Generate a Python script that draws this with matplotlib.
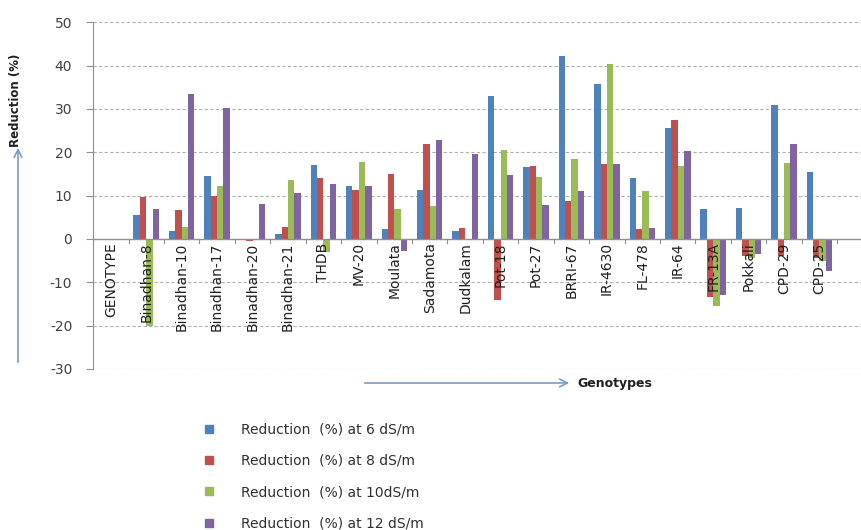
import numpy as np
import matplotlib
matplotlib.use("Agg")
import matplotlib.pyplot as plt
from matplotlib.patches import FancyArrowPatch
from matplotlib.lines import Line2D

plt.rcParams['axes.unicode_minus'] = False

genotypes = ['GENOTYPE', 'Binadhan-8', 'Binadhan-10', 'Binadhan-17', 'Binadhan-20',
             'Binadhan-21', 'THDB', 'MV-20', 'Moulata', 'Sadamota', 'Dudkalam',
             'Pot-18', 'Pot-27', 'BRRI-67', 'IR-4630', 'FL-478', 'IR-64',
             'FR-13A', 'Pokkali', 'CPD-29', 'CPD-25']

red_6 = [0, 5.5, 1.8, 14.5, -0.2, 1.2, 17.1, 12.2, 2.3, 11.2, 1.9,
         32.9, 16.7, 42.1, 35.8, 14.1, 25.6, 6.9, 7.1, 31.0, 15.5]
red_8 = [0, 9.6, 6.7, 10.0, -0.4, 2.8, 14.1, 11.2, 15.0, 21.8, 2.4,
         -14.0, 16.8, 8.7, 17.2, 2.3, 27.5, -13.5, -4.0, -4.0, -4.5]
red_10 = [0, -20.0, 2.7, 12.2, -0.3, 13.7, -3.0, 17.8, 6.8, 7.5, -0.3,
          20.5, 14.2, 18.5, 40.4, 11.0, 16.8, -15.5, -4.5, 17.5, -5.0]
red_12 = [0, 6.8, 33.5, 30.2, 8.1, 10.5, 12.7, 12.2, -2.8, 22.8, 19.5,
          14.8, 7.9, 11.0, 17.3, 2.5, 20.4, -13.0, -3.5, 21.8, -7.5]

series = [red_6, red_8, red_10, red_12]
names = ['Reduction  (%) at 6 dS/m', 'Reduction  (%) at 8 dS/m',
         'Reduction  (%) at 10dS/m', 'Reduction  (%) at 12 dS/m']
colors = ['#4F81BD', '#C0504D', '#9BBB59', '#8064A2']

fig = plt.figure(figsize=(8.62, 5.3), dpi=100)
ax = fig.add_axes([0.108, 0.304, 0.892, 0.654])

x = np.arange(len(genotypes))
w = 0.18
offs = [-1.5 * w, -0.5 * w, 0.5 * w, 1.5 * w]
for vals, c, off in zip(series, colors, offs):
    ax.bar(x + off, vals, width=w, color=c, zorder=3)

ax.set_ylim(-30, 50)
ax.set_xlim(-0.5, 21.2)
ax.set_yticks(range(-30, 51, 10))
ax.yaxis.grid(True, linestyle=(0, (3, 2)), color='#b0b0b0', linewidth=0.8, zorder=0)
ax.axhline(0, color='#909090', linewidth=1.0, zorder=4)
for s in ['top', 'right', 'bottom']:
    ax.spines[s].set_visible(False)
ax.spines['left'].set_color('#909090')
ax.tick_params(axis='y', length=5, color='#909090', labelsize=10, labelcolor='#404040', pad=10)
ax.set_xticks([])

# category boundary ticks on zero line
for b in np.arange(-0.5, len(genotypes) + 0.5, 1.0):
    ax.plot([b, b], [0, -0.9], color='#909090', linewidth=0.8, zorder=4)

for i, g in enumerate(genotypes):
    ax.text(i, -0.8, g, rotation=90, ha='center', va='top', fontsize=10,
            color='#202020', zorder=5)

# axis title arrows
fig.patches.append(FancyArrowPatch((18 / 862, 1 - 365 / 530), (18 / 862, 1 - 145 / 530),
                                   transform=fig.transFigure, arrowstyle='->',
                                   mutation_scale=14, color='#7a9cc6', linewidth=1.2))
fig.text(16 / 862, 1 - 100 / 530, 'Reduction (%)', rotation=90, ha='center', va='center',
         fontsize=8.5, fontweight='bold', color='#202020')
fig.patches.append(FancyArrowPatch((362 / 862, 1 - 383 / 530), (572 / 862, 1 - 383 / 530),
                                   transform=fig.transFigure, arrowstyle='->',
                                   mutation_scale=14, color='#7a9cc6', linewidth=1.2))
fig.text(577 / 862, 1 - 383 / 530, 'Genotypes', ha='left', va='center',
         fontsize=9, fontweight='bold', color='#202020')

handles = [Line2D([], [], marker='s', linestyle='none', markersize=6, color=c) for c in colors]
fig.legend(handles, names, loc='upper left', bbox_to_anchor=(190 / 862, 1 - 410 / 530),
           frameon=False, fontsize=10, labelspacing=1.25, handletextpad=1.8,
           handlelength=1.0, labelcolor='#303030')

fig.savefig('out.png', dpi=100)
